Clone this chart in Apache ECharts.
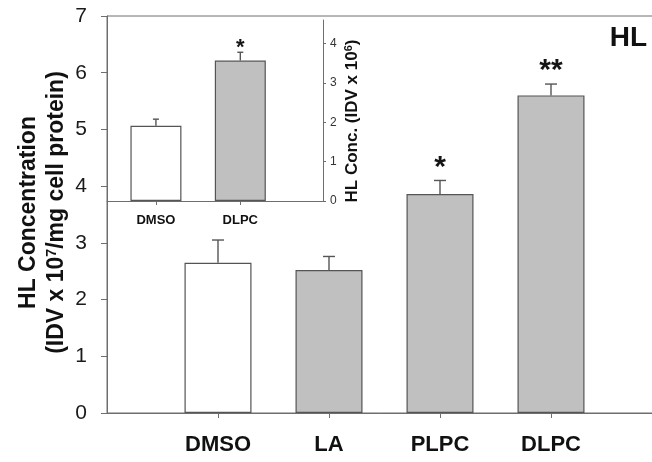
<!DOCTYPE html>
<html>
<head>
<meta charset="utf-8">
<script src="https://cdn.jsdelivr.net/npm/echarts@6/dist/echarts.min.js"></script>
<style>
  html, body { margin: 0; padding: 0; background: #ffffff; }
  #chart { width: 652px; height: 462px; }
</style>
</head>
<body>
<div id="chart"></div>
<script>
// HL concentration per treatment (IDV x 10^7 / mg cell protein), mean and SEM
const categories = ['DMSO', 'LA', 'PLPC', 'DLPC'];
const hlMean = [2.65, 2.52, 3.86, 5.60];
const hlSem = [0.40, 0.24, 0.24, 0.20];
const hlMarks = ['', '', '*', '**'];

// Inset: HL concentration (IDV x 10^6), DMSO vs DLPC
const insetCategories = ['DMSO', 'DLPC'];
const insetMean = [1.91, 3.57];
const insetSem = [0.17, 0.21];
const insetMarks = ['', '*'];
const insetTicks = [0, 1, 2, 3, 4];

const FONT = '"Liberation Sans", Arial, Helvetica, sans-serif';
const AXIS = '#6e6e6e';
const EDGE = '#555555';
const BAR_FILL = '#c0c0c0';
const CONTROL_FILL = '#ffffff';

// category i sits at x = i + 1 on a numeric axis
function barData(means) {
  return means.map((v, i) => ({
    value: [i + 1, v],
    itemStyle: { color: i === 0 ? CONTROL_FILL : BAR_FILL }
  }));
}

// upper error whisker with cap, plus significance stars above it
function errorSeries(axisIndex, means, sems, marks, capHalf, markSize, markGap) {
  return {
    type: 'custom',
    xAxisIndex: axisIndex,
    yAxisIndex: axisIndex,
    z: 1,
    silent: true,
    data: means.map((v, i) => [i + 1, v, v + sems[i], i]),
    renderItem(params, api) {
      const x = api.value(0);
      const base = api.coord([x, api.value(1)]);
      const top = api.coord([x, api.value(2)]);
      const mark = marks[api.value(3)];
      const stroke = { stroke: EDGE, lineWidth: 1.4 };
      const children = [
        { type: 'line', shape: { x1: base[0], y1: base[1], x2: top[0], y2: top[1] }, style: stroke },
        { type: 'line', shape: { x1: top[0] - capHalf, y1: top[1], x2: top[0] + capHalf, y2: top[1] }, style: stroke }
      ];
      if (mark) {
        children.push({
          type: 'text',
          x: top[0],
          y: top[1] - markGap,
          style: {
            text: mark, fontFamily: FONT, fontSize: markSize, fontWeight: 'bold',
            fill: '#151515', align: 'center', verticalAlign: 'middle'
          }
        });
      }
      return { type: 'group', children };
    }
  };
}

const chart = echarts.init(document.getElementById('chart'), null, { renderer: 'canvas' });

chart.setOption({
  animation: false,
  backgroundColor: '#ffffff',
  textStyle: { fontFamily: FONT },
  grid: [
    {
      left: 107, top: 16, width: 555, height: 397, outerBoundsMode: 'none', containLabel: false,
      show: true, borderColor: AXIS, borderWidth: 1, backgroundColor: 'transparent'
    },
    { left: 107, top: 20, width: 216, height: 181, outerBoundsMode: 'none', containLabel: false, show: false }
  ],
  xAxis: [
    {
      gridIndex: 0, type: 'value', min: 0, max: 5,
      axisLine: { show: true, onZero: false, lineStyle: { color: AXIS, width: 1 } },
      axisTick: { show: true, length: 5, customValues: [1, 2, 3, 4], lineStyle: { color: AXIS } },
      axisLabel: {
        customValues: [1, 2, 3, 4],
        formatter: v => categories[Math.round(v) - 1] || '',
        fontFamily: FONT, fontSize: 22, fontWeight: 'bold', color: '#111111', margin: 21
      },
      splitLine: { show: false }
    },
    {
      gridIndex: 1, type: 'value', min: 0.42, max: 2.98,
      axisLine: { show: true, onZero: false, lineStyle: { color: AXIS, width: 1 } },
      axisTick: { show: true, length: 4, customValues: [1, 2], lineStyle: { color: AXIS } },
      axisLabel: {
        customValues: [1, 2],
        formatter: v => insetCategories[Math.round(v) - 1] || '',
        fontFamily: FONT, fontSize: 13, fontWeight: 'bold', color: '#111111', margin: 13
      },
      splitLine: { show: false }
    }
  ],
  yAxis: [
    {
      gridIndex: 0, type: 'value', min: 0, max: 7, interval: 1,
      axisLine: { show: true, lineStyle: { color: AXIS, width: 1 } },
      axisTick: { show: true, length: 6, lineStyle: { color: AXIS } },
      axisLabel: { fontFamily: FONT, fontSize: 21, color: '#1a1a1a', margin: 20 },
      splitLine: { show: false }
    },
    {
      gridIndex: 1, type: 'value', position: 'right', min: 0, max: 4.6,
      axisLine: { show: true, lineStyle: { color: AXIS, width: 1 } },
      axisTick: { show: true, length: 3, customValues: insetTicks, lineStyle: { color: AXIS } },
      axisLabel: { customValues: insetTicks, fontFamily: FONT, fontSize: 12, color: '#333333', margin: 7 },
      splitLine: { show: false }
    }
  ],
  series: [
    errorSeries(0, hlMean, hlSem, hlMarks, 6, 30, 13),
    {
      type: 'bar', xAxisIndex: 0, yAxisIndex: 0, barWidth: 67, z: 2,
      itemStyle: { borderColor: EDGE, borderWidth: 1.2 },
      data: barData(hlMean)
    },
    errorSeries(1, insetMean, insetSem, insetMarks, 3, 22, 4),
    {
      type: 'bar', xAxisIndex: 1, yAxisIndex: 1, barWidth: 51, z: 2,
      itemStyle: { borderColor: EDGE, borderWidth: 1.2 },
      data: barData(insetMean)
    }
  ],
  graphic: [
    {
      type: 'text', x: 29, y: 212.5, rotation: Math.PI / 2,
      style: {
        text: 'HL Concentration', fontFamily: FONT, fontSize: 23, fontWeight: 'bold',
        fill: '#111111', align: 'center', verticalAlign: 'middle'
      }
    },
    {
      type: 'text', x: 57, y: 212.5, rotation: Math.PI / 2,
      style: {
        text: '(IDV x 10{sup|7}/mg cell protein)', fontFamily: FONT, fontSize: 23, fontWeight: 'bold',
        fill: '#111111', align: 'center', verticalAlign: 'middle',
        rich: { sup: { fontFamily: FONT, fontSize: 14, fontWeight: 'bold', fill: '#111111', verticalAlign: 'top' } }
      }
    },
    {
      type: 'text', x: 352, y: 121, rotation: Math.PI / 2,
      style: {
        text: 'HL Conc. (IDV x 10{sup|6})', fontFamily: FONT, fontSize: 17, fontWeight: 'bold',
        fill: '#111111', align: 'center', verticalAlign: 'middle',
        rich: { sup: { fontFamily: FONT, fontSize: 11, fontWeight: 'bold', fill: '#111111', verticalAlign: 'top' } }
      }
    },
    {
      type: 'text', right: 5, top: 24,
      style: { text: 'HL', fontFamily: FONT, fontSize: 28, fontWeight: 'bold', fill: '#111111' }
    }
  ]
});
</script>
</body>
</html>
